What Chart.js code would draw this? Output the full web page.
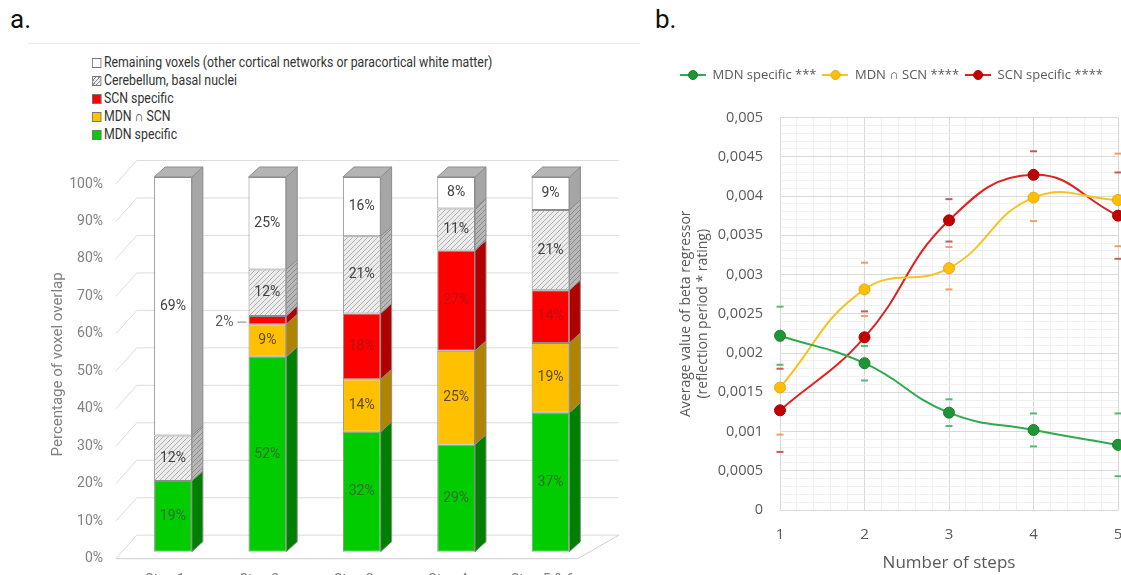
<!DOCTYPE html>
<html>
<head>
<meta charset="utf-8">
<script src="https://cdn.jsdelivr.net/npm/chart.js@4.4.0/dist/chart.umd.min.js"></script>
<style>
  html, body { margin: 0; padding: 0; background: #fff; }
  body { width: 1121px; height: 575px; overflow: hidden; position: relative; }
  .tag { position: absolute; font: 26px "Liberation Sans Narrow", Roboto, sans-serif; color: #111; }
  #frameA { position: absolute; left: 28px; top: 43px; width: 612px; border-top: 1px solid #ececec; }
  #legendA { position: absolute; left: 92px; top: 54px; font: 14.5px "Liberation Sans Narrow", Roboto, sans-serif; color: #333; transform: scaleX(0.85); transform-origin: 0 0; }
  #legendA div { height: 18px; line-height: 18px; white-space: nowrap; }
  #legendA span { display: inline-block; width: 9px; height: 8px; border: 1px solid #777; margin-right: 3px; vertical-align: -1px; }
  #wrapA { position: absolute; left: 0; top: 0; width: 650px; height: 600px; }
  #wrapB { position: absolute; left: 650px; top: 0; width: 471px; height: 575px; }
</style>
</head>
<body>
<div class="tag" style="left:10px;top:4px">a.</div>
<div class="tag" style="left:655px;top:4px">b.</div>
<div id="frameA"></div>
<div id="legendA"></div>
<div id="wrapA"><canvas id="chartA"></canvas></div>
<div id="wrapB"><canvas id="chartB"></canvas></div>
<script>
// panel a: share of voxels per step (%)
const steps = ["Step 1", "Step 2", "Step 3", "Step 4", "Step 5 & 6"];
const mdnSpecific = [18.9, 52.0, 32.0, 28.6, 37.1];
const mdnScn = [0, 8.7, 14.0, 25.0, 18.6];
const scnSpecific = [0, 2.2, 17.6, 26.8, 14.1];
const cerebellum = [12.1, 12.4, 20.6, 11.2, 21.4];
const remaining = [69.0, 24.7, 15.8, 8.4, 8.8];

// panel b: average beta per number of steps
const nSteps = [1, 2, 3, 4, 5];
const betaMdn = [0.00222, 0.00187, 0.00124, 0.00102, 0.00083];
const errMdn = [0.00037, 0.00022, 0.00017, 0.00021, 0.0004];
const betaBoth = [0.00156, 0.00281, 0.00308, 0.00398, 0.00395];
const errBoth = [0.0006, 0.00034, 0.00027, 0.0003, 0.00059];
const betaScn = [0.00127, 0.0022, 0.00369, 0.00427, 0.00375];
const errScn = [0.00053, 0.00033, 0.00027, 0.0003, 0.00055];

const FA = '"Liberation Sans Narrow", Roboto, sans-serif';
const FB = '"Open Sans", "Noto Sans", sans-serif';

function hatch(bg, fg) {
  const c = document.createElement("canvas");
  c.width = c.height = 5;
  const g = c.getContext("2d");
  g.fillStyle = bg;
  g.fillRect(0, 0, 5, 5);
  g.strokeStyle = fg;
  g.lineWidth = 1;
  g.beginPath();
  g.moveTo(0, 5); g.lineTo(5, 0);
  g.moveTo(-1, 1); g.lineTo(1, -1);
  g.moveTo(4, 6); g.lineTo(6, 4);
  g.stroke();
  return g.createPattern(c, "repeat");
}

const DX = 11, DY = 10;

// fake 3D: back wall grid, floor, side and top faces, value labels
const pseudo3d = {
  id: "pseudo3d",
  beforeDatasetsDraw(chart) {
    const { ctx, chartArea, scales: { y } } = chart;
    const fx = chartArea.left - 10, bx = chartArea.left + 11, rx = chartArea.right + 21;
    ctx.save();
    ctx.strokeStyle = "#dcdcdc";
    ctx.lineWidth = 1;
    y.ticks.forEach((t) => {
      const py = y.getPixelForValue(t.value);
      ctx.beginPath();
      ctx.moveTo(fx, py + 7);
      ctx.lineTo(bx, py - 16.5);
      ctx.lineTo(rx, py - 16.5);
      ctx.stroke();
    });
    const p0 = y.getPixelForValue(0);
    ctx.strokeStyle = "#cfcfcf";
    ctx.beginPath();
    ctx.moveTo(fx, p0 + 7);
    ctx.lineTo(chartArea.right - 20, p0 + 7);
    ctx.lineTo(rx, p0 - 16.5);
    ctx.stroke();
    ctx.restore();
  },
  afterDatasetsDraw(chart) {
    const { ctx } = chart;
    const n = chart.data.datasets.length;
    ctx.save();
    chart.data.datasets.forEach((ds, di) => {
      const meta = chart.getDatasetMeta(di);
      meta.data.forEach((bar) => {
        const { x, y, base, width } = bar.getProps(["x", "y", "base", "width"], true);
        if (Math.abs(base - y) < 0.5) return;
        const l = x - width / 2, r = x + width / 2;
        ctx.strokeStyle = "#8c8c8c";
        ctx.lineWidth = 1;
        ctx.beginPath();
        ctx.moveTo(r, y);
        ctx.lineTo(r + DX, y - DY);
        ctx.lineTo(r + DX, base - DY);
        ctx.lineTo(r, base);
        ctx.closePath();
        ctx.fillStyle = ds.sideColor;
        ctx.fill();
        ctx.stroke();
        if (di === n - 1) {
          ctx.beginPath();
          ctx.moveTo(l, y);
          ctx.lineTo(l + DX, y - DY);
          ctx.lineTo(r + DX, y - DY);
          ctx.lineTo(r, y);
          ctx.closePath();
          ctx.fillStyle = "#b4b4b4";
          ctx.fill();
          ctx.stroke();
        }
      });
    });
    ctx.font = "14px " + FA;
    ctx.textBaseline = "middle";
    chart.data.datasets.forEach((ds, di) => {
      const meta = chart.getDatasetMeta(di);
      meta.data.forEach((bar, i) => {
        const v = ds.data[i];
        if (!v) return;
        const { x, y, base, width } = bar.getProps(["x", "y", "base", "width"], true);
        const txt = Math.round(v) + "%";
        const cy = (y + base) / 2;
        if (base - y < 14) {
          const l = x - width / 2;
          ctx.fillStyle = "#595959";
          ctx.textAlign = "right";
          ctx.fillText(txt, l - 15, cy + 2);
          ctx.strokeStyle = "#7f7f7f";
          ctx.beginPath();
          ctx.moveTo(l - 11, cy + 2);
          ctx.lineTo(l - 2, cy + 2);
          ctx.stroke();
        } else {
          ctx.fillStyle = ds.labelColor;
          ctx.textAlign = "center";
          ctx.fillText(txt, x, cy);
        }
      });
    });
    ctx.restore();
  },
};

const cerebFront = hatch("#ececec", "#b0b0b0");
const cerebSide = hatch("#b8b8b8", "#8a8a8a");

const chartA = new Chart(document.getElementById("chartA"), {
  type: "bar",
  data: {
    labels: steps,
    datasets: [
      { label: "MDN specific", data: mdnSpecific, backgroundColor: "#00cc00", sideColor: "#008000", labelColor: "#2f6f2f", swatch: "#00cc00" },
      { label: "MDN \u2229 SCN", data: mdnScn, backgroundColor: "#ffc000", sideColor: "#b08400", labelColor: "#5a4a1a", swatch: "#ffc000" },
      { label: "SCN specific", data: scnSpecific, backgroundColor: "#ff0000", sideColor: "#b00000", labelColor: "#b81010", swatch: "#ff0000" },
      { label: "Cerebellum, basal nuclei", data: cerebellum, backgroundColor: cerebFront, sideColor: cerebSide, labelColor: "#404040", swatch: "repeating-linear-gradient(-45deg,#888 0 1px,#eee 1px 3px)" },
      { label: "Remaining voxels (other cortical networks or paracortical white matter)", data: remaining, backgroundColor: "#ffffff", sideColor: "#a6a6a6", labelColor: "#404040", swatch: "#ffffff" },
    ],
  },
  options: {
    responsive: true,
    maintainAspectRatio: false,
    animation: false,
    datasets: { bar: { barPercentage: 0.4, categoryPercentage: 1, borderColor: "#8c8c8c", borderWidth: 1, borderSkipped: false } },
    layout: { padding: { left: 45, right: 52.3, top: 177, bottom: 0 } },
    plugins: { legend: { display: false }, tooltip: { enabled: false } },
    scales: {
      x: {
        stacked: true,
        grid: { display: false, drawTicks: false },
        border: { display: false },
        ticks: { color: "#808080", font: { family: FA, size: 14 }, padding: 20, labelOffset: -8 },
        afterFit: (s) => { s.height = 48.3; },
      },
      y: {
        stacked: true,
        min: 0,
        max: 100,
        grid: { display: false, drawTicks: false },
        border: { display: false },
        ticks: { stepSize: 10, callback: (v) => v + "%", color: "#808080", font: { family: FA, size: 14 }, padding: 22.8, labelOffset: 7 },
        title: { display: true, text: "Percentage of voxel overlap", color: "#808080", font: { family: FA, size: 15 } },
        afterFit: (s) => { s.width = 80.8; },
      },
    },
  },
  plugins: [pseudo3d],
});

// legend of panel a, top item = top of the stack
const legendA = document.getElementById("legendA");
chartA.data.datasets.slice().reverse().forEach((ds) => {
  const row = document.createElement("div");
  const box = document.createElement("span");
  box.style.background = ds.swatch;
  row.appendChild(box);
  row.appendChild(document.createTextNode(ds.label));
  legendA.appendChild(row);
});

function marker(line, fill, border) {
  const c = document.createElement("canvas");
  c.width = 26;
  c.height = 12;
  const g = c.getContext("2d");
  g.strokeStyle = line;
  g.lineWidth = 2;
  g.beginPath();
  g.moveTo(0, 6);
  g.lineTo(26, 6);
  g.stroke();
  g.beginPath();
  g.arc(13, 6, 4.5, 0, Math.PI * 2);
  g.fillStyle = fill;
  g.fill();
  g.strokeStyle = border;
  g.lineWidth = 1;
  g.stroke();
  return c;
}

// extra room under the legend
const legendGap = {
  id: "legendGap",
  beforeInit(chart) {
    const lg = chart.legend;
    const fit = lg.fit;
    lg.fit = function () {
      fit.call(this);
      this.height += 26;
    };
  },
};

// error caps only, no whiskers
const errorCaps = {
  id: "errorCaps",
  beforeDatasetsDraw(chart) {
    const { ctx, scales: { y } } = chart;
    ctx.save();
    ctx.lineWidth = 2;
    chart.data.datasets.forEach((ds, di) => {
      const meta = chart.getDatasetMeta(di);
      ctx.strokeStyle = ds.capColor;
      meta.data.forEach((pt, i) => {
        const v = ds.data[i].y, e = ds.errors[i];
        [v + e, v - e].forEach((val) => {
          const py = y.getPixelForValue(val);
          ctx.beginPath();
          ctx.moveTo(pt.x - 3.5, py);
          ctx.lineTo(pt.x + 3.5, py);
          ctx.stroke();
        });
      });
    });
    ctx.restore();
  },
};

const near = (a, b) => Math.abs(a - b) < 1e-7;
const majorY = (v) => near(Math.round(v * 2000), v * 2000);
const majorX = (v) => near(Math.round(v), v);
const toPoints = (vals) => vals.map((v, i) => ({ x: nSteps[i], y: v }));

new Chart(document.getElementById("chartB"), {
  type: "line",
  data: {
    datasets: [
      { label: "MDN specific ***", data: toPoints(betaMdn), errors: errMdn, borderColor: "#2eaa50", pointBackgroundColor: "#1e9636", pointBorderColor: "#17802d", capColor: "#56b877", legendMarker: marker("#2eaa50", "#1e9636", "#17802d") },
      { label: "MDN \u2229 SCN ****", data: toPoints(betaBoth), errors: errBoth, borderColor: "#f6c324", pointBackgroundColor: "#ffc000", pointBorderColor: "#eea020", capColor: "#f0a060", legendMarker: marker("#f6c324", "#ffc000", "#eea020") },
      { label: "SCN specific ****", data: toPoints(betaScn), errors: errScn, borderColor: "#dd2222", pointBackgroundColor: "#c00000", pointBorderColor: "#b00000", capColor: "#c85a5a", legendMarker: marker("#dd2222", "#c00000", "#b00000") },
    ],
  },
  options: {
    responsive: true,
    maintainAspectRatio: false,
    animation: false,
    datasets: { line: { borderWidth: 2, tension: 0.45, pointRadius: 5.5, pointBorderWidth: 1, clip: false, fill: false } },
    layout: { autoPadding: false, padding: { left: 24, right: 3, top: 62.5, bottom: 0 } },
    plugins: {
      tooltip: { enabled: false },
      legend: {
        position: "top",
        align: "start",
        labels: {
          usePointStyle: true,
          pointStyleWidth: 26,
          padding: 6,
          color: "#595959",
          font: { family: FB, size: 13 },
          generateLabels(chart) {
            const items = Chart.defaults.plugins.legend.labels.generateLabels(chart);
            items.forEach((it, i) => { it.pointStyle = chart.data.datasets[i].legendMarker; });
            return items;
          },
        },
      },
    },
    scales: {
      x: {
        type: "linear",
        min: 1,
        max: 5,
        grid: { drawTicks: false, color: (c) => (majorX(c.tick.value) ? "#d9d9d9" : "#f0f0f0") },
        border: { color: "#d9d9d9" },
        ticks: { stepSize: 0.2, autoSkip: false, maxRotation: 0, padding: 16, color: "#595959", font: { family: FB, size: 15 }, callback: (v) => (majorX(v) ? String(Math.round(v)) : "") },
        title: { display: true, text: "Number of steps", color: "#595959", font: { family: FB, size: 17 }, padding: { top: 0, bottom: 2 } },
        afterFit: (s) => { s.height = 65; s.paddingLeft = 0; s.paddingRight = 0; },
      },
      y: {
        min: 0,
        max: 0.005,
        grid: { drawTicks: false, color: (c) => (majorY(c.tick.value) ? "#d9d9d9" : "#f0f0f0") },
        border: { color: "#d9d9d9" },
        ticks: { stepSize: 0.0001, autoSkip: false, padding: 17, color: "#595959", font: { family: FB, size: 14.5 }, callback: (v) => (majorY(v) ? String(Math.round(v * 10000) / 10000).replace(".", ",") : "") },
        title: { display: true, text: ["Average value of beta regressor", "(reflection period * rating)"], color: "#595959", font: { family: FB, size: 14 } },
        afterFit: (s) => { s.width = 106; },
      },
    },
  },
  plugins: [legendGap, errorCaps],
});
</script>
</body>
</html>
